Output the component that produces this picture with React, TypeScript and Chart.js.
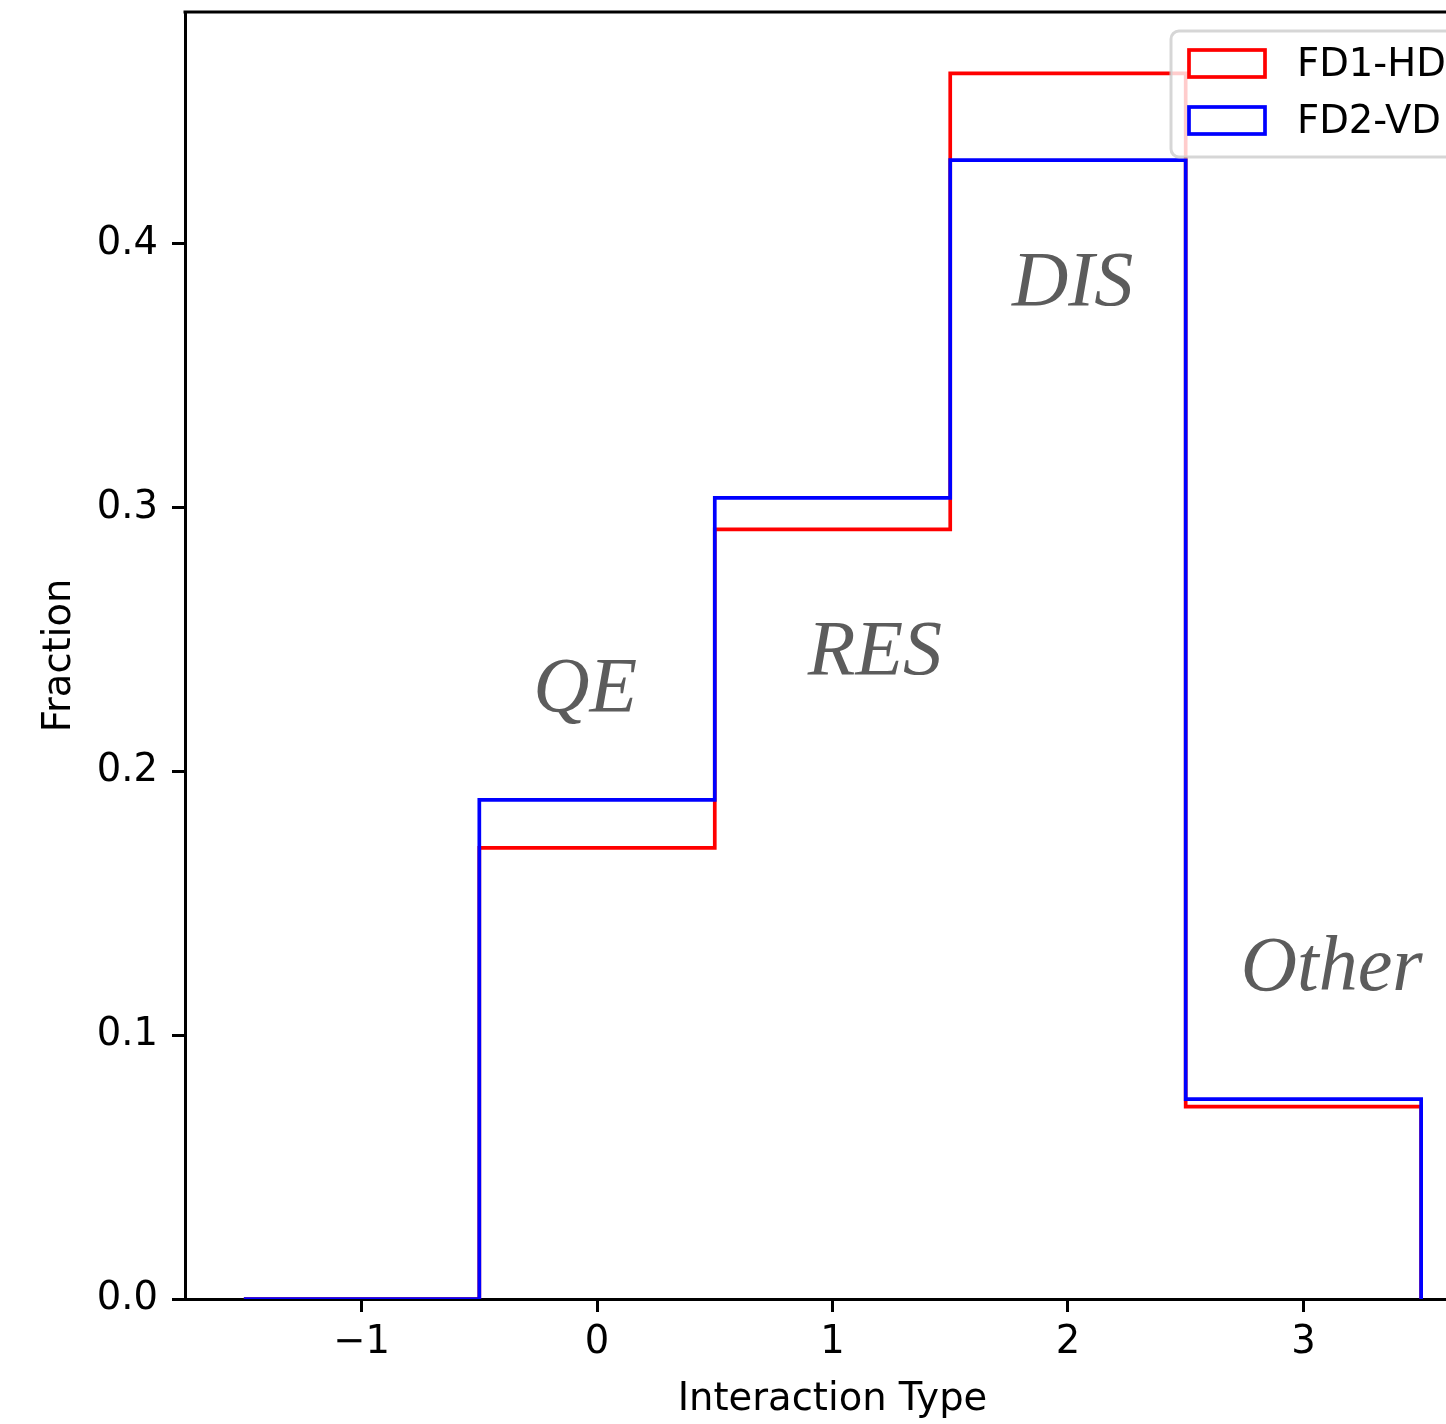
import React, { useEffect, useRef } from 'react';
import { Chart, registerables } from 'chart.js';

Chart.register(...registerables);

// ---- data ----
const binEdges = [-1.5, -0.5, 0.5, 1.5, 2.5, 3.5];
const fd1Values = [0, 0.171, 0.2918, 0.4647, 0.0729];
const fd2Values = [0, 0.1892, 0.3037, 0.4318, 0.0758];
const seriesLabels = ['FD1-HD', 'FD2-VD'];
const seriesColors = ['#ff0000', '#0000ff'];
const xTicks = [-1, 0, 1, 2, 3];
const yTicks = [0, 0.1, 0.2, 0.3, 0.4];
const regionLabels = ['QE', 'RES', 'DIS', 'Other'];
const regionX = [-0.05, 1.18, 2.02, 3.12];
const regionY = [0.223, 0.237, 0.377, 0.117];

const FONT = 'DejaVu Sans';
const FS = 38.5;

function stepPoints(values: number[]) {
  const pts = values.map((v, i) => ({ x: binEdges[i], y: v }));
  pts.push({ x: binEdges[binEdges.length - 1], y: 0 });
  return pts;
}

const span = binEdges[binEdges.length - 1] - binEdges[0];
const xMin = binEdges[0] - span * 0.05;
const xMax = binEdges[binEdges.length - 1] + span * 0.05;
const yMax = Math.max(...fd1Values, ...fd2Values) * 1.05;

const framePlugin = {
  id: 'frame',
  afterDraw(chart: any) {
    const { ctx, chartArea } = chart;
    ctx.save();
    ctx.strokeStyle = '#000';
    ctx.lineWidth = 3;
    ctx.beginPath();
    ctx.moveTo(chartArea.left - 1.5, chartArea.top);
    ctx.lineTo(chartArea.right, chartArea.top);
    ctx.lineTo(chartArea.right, chartArea.bottom);
    ctx.stroke();
    ctx.restore();
  },
};

const annotationPlugin = {
  id: 'regionText',
  afterDatasetsDraw(chart: any) {
    const { ctx, scales } = chart;
    ctx.save();
    ctx.font = 'italic 78px "Liberation Serif"';
    ctx.fillStyle = '#5c5c5c';
    ctx.textAlign = 'center';
    ctx.textBaseline = 'alphabetic';
    regionLabels.forEach((t, i) => {
      ctx.fillText(t, scales.x.getPixelForValue(regionX[i]), scales.y.getPixelForValue(regionY[i]));
    });
    ctx.restore();
  },
};

const legendPlugin = {
  id: 'customLegend',
  afterDraw(chart: any) {
    const { ctx, chartArea } = chart;
    const bx = 1171, by = chartArea.top + 19, bw = 400, bh = 126, r = 8;
    ctx.save();
    ctx.beginPath();
    ctx.moveTo(bx + r, by);
    ctx.lineTo(bx + bw - r, by);
    ctx.arcTo(bx + bw, by, bx + bw, by + r, r);
    ctx.lineTo(bx + bw, by + bh - r);
    ctx.arcTo(bx + bw, by + bh, bx + bw - r, by + bh, r);
    ctx.lineTo(bx + r, by + bh);
    ctx.arcTo(bx, by + bh, bx, by + bh - r, r);
    ctx.lineTo(bx, by + r);
    ctx.arcTo(bx, by, bx + r, by, r);
    ctx.closePath();
    ctx.fillStyle = 'rgba(255,255,255,0.8)';
    ctx.fill();
    ctx.strokeStyle = 'rgba(204,204,204,0.8)';
    ctx.lineWidth = 3;
    ctx.stroke();
    ctx.font = `${FS}px "${FONT}"`;
    ctx.textAlign = 'left';
    ctx.textBaseline = 'alphabetic';
    seriesLabels.forEach((lab, i) => {
      const y0 = by + 18 + i * 57;
      ctx.strokeStyle = seriesColors[i];
      ctx.lineWidth = 3.7;
      ctx.strokeRect(1189, y0 + 1, 76, 27);
      ctx.fillStyle = '#000';
      ctx.fillText(lab, 1297, y0 + 27);
    });
    ctx.restore();
  },
};

export default function App() {
  const ref = useRef<HTMLCanvasElement>(null);
  useEffect(() => {
    document.body.style.margin = '0';
    const canvas = ref.current!;
    const tickFont = { family: FONT, size: FS };
    const chart = new Chart(canvas, {
      type: 'line',
      data: {
        datasets: [
          {
            label: seriesLabels[0],
            data: stepPoints(fd1Values),
            borderColor: seriesColors[0],
            borderWidth: 3.7,
            stepped: true,
            pointRadius: 0,
            fill: false,
            order: 1,
            borderJoinStyle: 'miter',
          },
          {
            label: seriesLabels[1],
            data: stepPoints(fd2Values),
            borderColor: seriesColors[1],
            borderWidth: 3.7,
            stepped: true,
            pointRadius: 0,
            fill: false,
            order: 0,
            borderJoinStyle: 'miter',
          },
        ],
      },
      options: {
        animation: false,
        responsive: false,
        devicePixelRatio: 1,
        layout: { padding: { top: 12, right: 2, left: 0, bottom: 0 } },
        plugins: { legend: { display: false }, tooltip: { enabled: false } },
        scales: {
          x: {
            type: 'linear',
            min: xMin,
            max: xMax,
            afterBuildTicks: (s: any) => {
              s.ticks = xTicks.map((v) => ({ value: v }));
            },
            afterFit: (s: any) => {
              s.height = 125;
              s.paddingLeft = 0;
              s.paddingRight = 0;
              s.paddingTop = 0;
              s.paddingBottom = 0;
            },
            ticks: {
              font: tickFont,
              color: '#000',
              padding: 8,
              maxRotation: 0,
              autoSkip: false,
              callback: (v: any) => (Number(v) < 0 ? '\u2212' + Math.abs(Number(v)) : String(v)),
            },
            grid: { drawOnChartArea: false, drawTicks: true, tickLength: 13, tickWidth: 3, tickColor: '#000' },
            border: { display: true, color: '#000', width: 3 },
            title: { display: true, text: 'Interaction Type', font: tickFont, color: '#000', padding: { top: 0, bottom: 1 } },
          },
          y: {
            type: 'linear',
            min: 0,
            max: yMax,
            afterBuildTicks: (s: any) => {
              s.ticks = yTicks.map((v) => ({ value: v }));
            },
            afterFit: (s: any) => {
              s.width = 185;
              s.paddingLeft = 0;
              s.paddingRight = 0;
              s.paddingTop = 0;
              s.paddingBottom = 0;
            },
            ticks: {
              font: tickFont,
              color: '#000',
              padding: 14,
              autoSkip: false,
              callback: (v: any) => Number(v).toFixed(1),
            },
            grid: { drawOnChartArea: false, drawTicks: true, tickLength: 13, tickWidth: 3, tickColor: '#000' },
            border: { display: true, color: '#000', width: 3 },
            title: { display: true, text: 'Fraction', font: tickFont, color: '#000', padding: { top: 37, bottom: 0 } },
          },
        },
      },
      plugins: [framePlugin, annotationPlugin, legendPlugin],
    } as any);
    return () => chart.destroy();
  }, []);
  return (
    <div style={{ width: 1446, height: 1424, overflow: 'hidden', background: '#fff' }}>
      <canvas ref={ref} width={1482} height={1424} style={{ display: 'block' }} />
    </div>
  );
}
